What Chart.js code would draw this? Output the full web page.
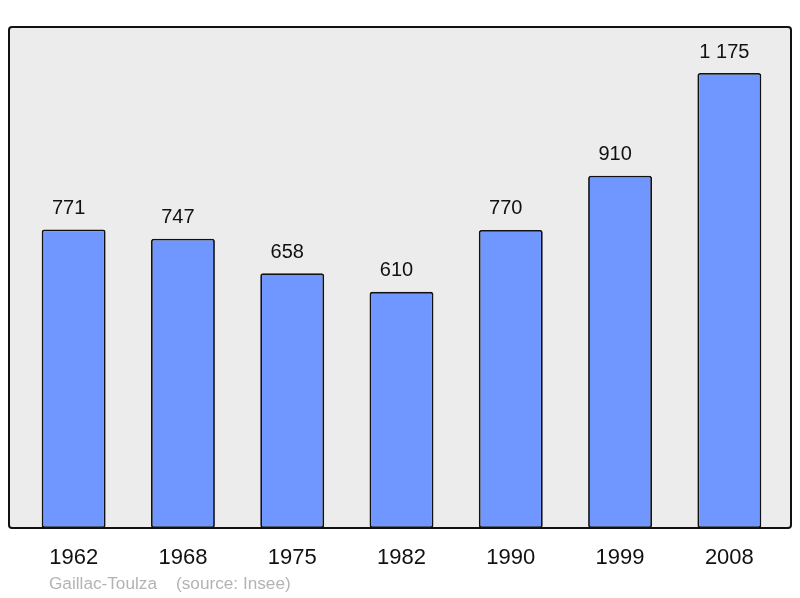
<!DOCTYPE html>
<html>
<head>
<meta charset="utf-8">
<script src="https://cdn.jsdelivr.net/npm/chart.js@4/dist/chart.umd.min.js"></script>
<style>
  html, body { margin: 0; padding: 0; background: #fff; }
  #wrap { width: 800px; height: 598px; }
</style>
</head>
<body>
<div id="wrap"><canvas id="popChart"></canvas></div>
<script>
let years = ['1962', '1968', '1975', '1982', '1990', '1999', '2008'];
let population = [771, 747, 658, 610, 770, 910, 1175];
let sourceText = 'Gaillac-Toulza    (source: Insee)';

let fontFamily = '"Liberation Sans", Arial, sans-serif';

function formatNumber(n) {
  return String(n).replace(/\B(?=(\d{3})+(?!\d))/g, ' ');
}

// frame, value labels and source line
let decorations = {
  id: 'decorations',
  beforeDraw(chart) {
    let ctx = chart.ctx;
    ctx.save();
    ctx.beginPath();
    ctx.roundRect(9, 27, 782, 501, 3);
    ctx.fillStyle = '#ececec';
    ctx.fill();
    ctx.restore();
  },
  afterDatasetsDraw(chart) {
    let ctx = chart.ctx;
    ctx.save();
    ctx.beginPath();
    ctx.roundRect(9, 27, 782, 501, 3);
    ctx.lineWidth = 2;
    ctx.strokeStyle = '#111';
    ctx.stroke();

    let meta = chart.getDatasetMeta(0);
    ctx.fillStyle = '#111';
    ctx.font = '20px ' + fontFamily;
    ctx.textAlign = 'center';
    ctx.textBaseline = 'middle';
    meta.data.forEach(function (bar, i) {
      ctx.fillText(formatNumber(population[i]), bar.x - 5, bar.y - 21);
    });

    ctx.fillStyle = '#b3b3b3';
    ctx.font = '17.2px ' + fontFamily;
    ctx.textAlign = 'left';
    ctx.fillText(sourceText, 49, 584);
    ctx.restore();
  }
};

let chart = new Chart(document.querySelector('#popChart'), {
  type: 'bar',
  data: {
    labels: years,
    datasets: [{
      data: population,
      backgroundColor: '#7096ff',
      borderColor: '#111',
      borderWidth: 1.8,
      borderRadius: 2.5,
      borderSkipped: false,
      barPercentage: 0.585,
      categoryPercentage: 1
    }]
  },
  options: {
    responsive: true,
    maintainAspectRatio: false,
    animation: false,
    layout: { padding: { left: 19, right: 16, top: 27, bottom: 0 } },
    plugins: {
      legend: { display: false },
      tooltip: { enabled: false }
    },
    scales: {
      x: {
        grid: { display: false },
        border: { display: false },
        ticks: {
          color: '#111',
          font: { family: fontFamily, size: 22 },
          padding: 9
        },
        afterFit(scale) { scale.height = 70; }
      },
      y: {
        display: false,
        min: 0,
        max: 1294
      }
    }
  },
  plugins: [decorations]
});
</script>
</body>
</html>
